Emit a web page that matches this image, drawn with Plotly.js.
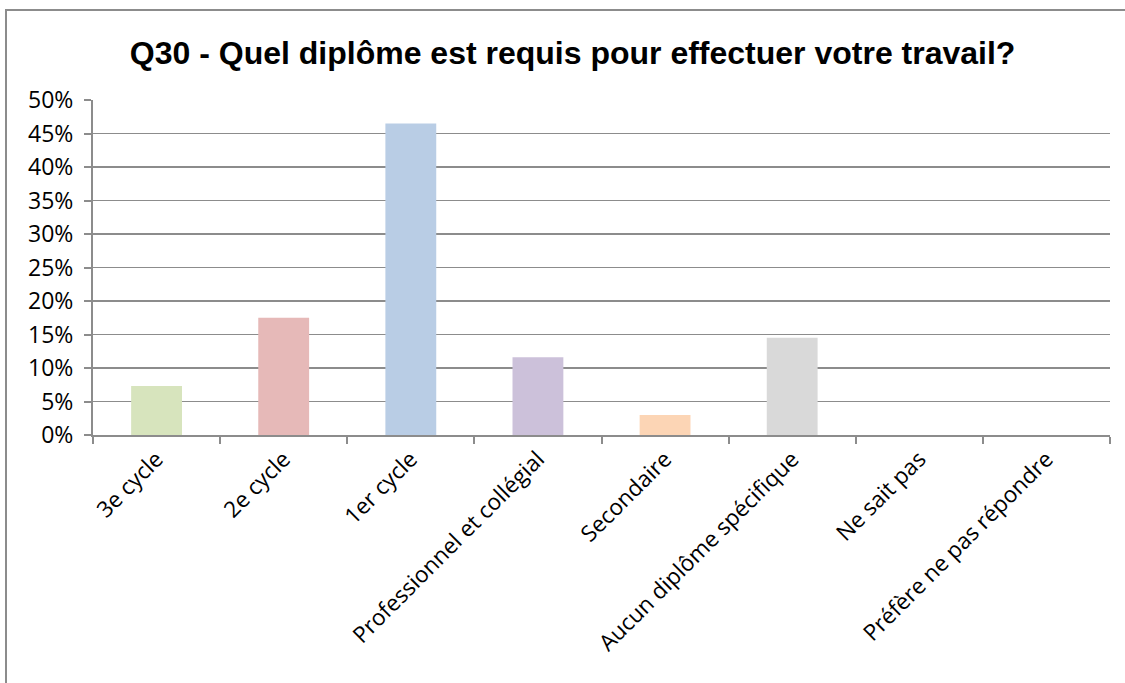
<!DOCTYPE html>
<html>
<head>
<meta charset="utf-8">
<script src="https://cdn.plot.ly/plotly-3.0.1.min.js"></script>
<style>
html,body{margin:0;padding:0;background:#fff;}
#chart{width:1125px;height:683px;position:absolute;left:0;top:0;}
#frame{position:absolute;left:5px;top:9px;width:1200px;height:800px;border-left:2px solid #8c8c8c;border-top:2px solid #8c8c8c;pointer-events:none;}
</style>
</head>
<body>
<div id="chart"></div>
<div id="frame"></div>
<script>
const categories = ["3e cycle","2e cycle","1er cycle","Professionnel et collégial","Secondaire","Aucun diplôme spécifique","Ne sait pas","Préfère ne pas répondre"];
const values = [0.073, 0.175, 0.465, 0.116, 0.030, 0.145, 0, 0];
const barColors = ["#d7e4bd","#e6b9b8","#b9cde5","#ccc1da","#fcd5b5","#d9d9d9","#d9d9d9","#d9d9d9"];
const yTickVals = [0,0.05,0.10,0.15,0.20,0.25,0.30,0.35,0.40,0.45,0.50];
const yTickText = ["0%","5%","10%","15%","20%","25%","30%","35%","40%","45%","50%"];
const titleText = "Q30 - Quel diplôme est requis pour effectuer votre travail?";

Plotly.newPlot("chart", [{
  type: "bar",
  x: categories,
  y: values,
  marker: {color: barColors},
  width: 0.4,
  hoverinfo: "x+y"
}], {
  width: 1125, height: 683,
  margin: {l: 93, r: 15, t: 100, b: 248},
  paper_bgcolor: "#fff", plot_bgcolor: "#fff",
  showlegend: false,
  title: {text: "<b>" + titleText + "</b>", font: {family: "Liberation Sans, Arial, sans-serif", size: 32, color: "#000"}, x: 0.509, xanchor: "center", y: 0.923, yanchor: "middle"},
  xaxis: {
    type: "category",
    tickangle: -45,
    tickson: "boundaries",
    ticks: "outside", ticklen: 7, tickwidth: 2, tickcolor: "#8c8c8c",
    showline: true, linecolor: "#8c8c8c", linewidth: 2,
    showgrid: false,
    tickfont: {family: "Open Sans, Noto Sans, sans-serif", size: 22.5, color: "#000"},
    range: [-0.5, 7.5]
  },
  yaxis: {
    range: [0, 0.5],
    tickvals: yTickVals, ticktext: yTickText,
    ticks: "outside", ticklen: 7, tickwidth: 2, tickcolor: "#8c8c8c",
    ticklabelstandoff: 6,
    showline: true, linecolor: "#8c8c8c", linewidth: 2,
    showgrid: true, gridcolor: "#8c8c8c", gridwidth: 1.5,
    zeroline: false,
    tickfont: {family: "Open Sans, Noto Sans, sans-serif", size: 23, color: "#000"}
  }
}, {displayModeBar: false, staticPlot: true});
</script>
</body>
</html>
